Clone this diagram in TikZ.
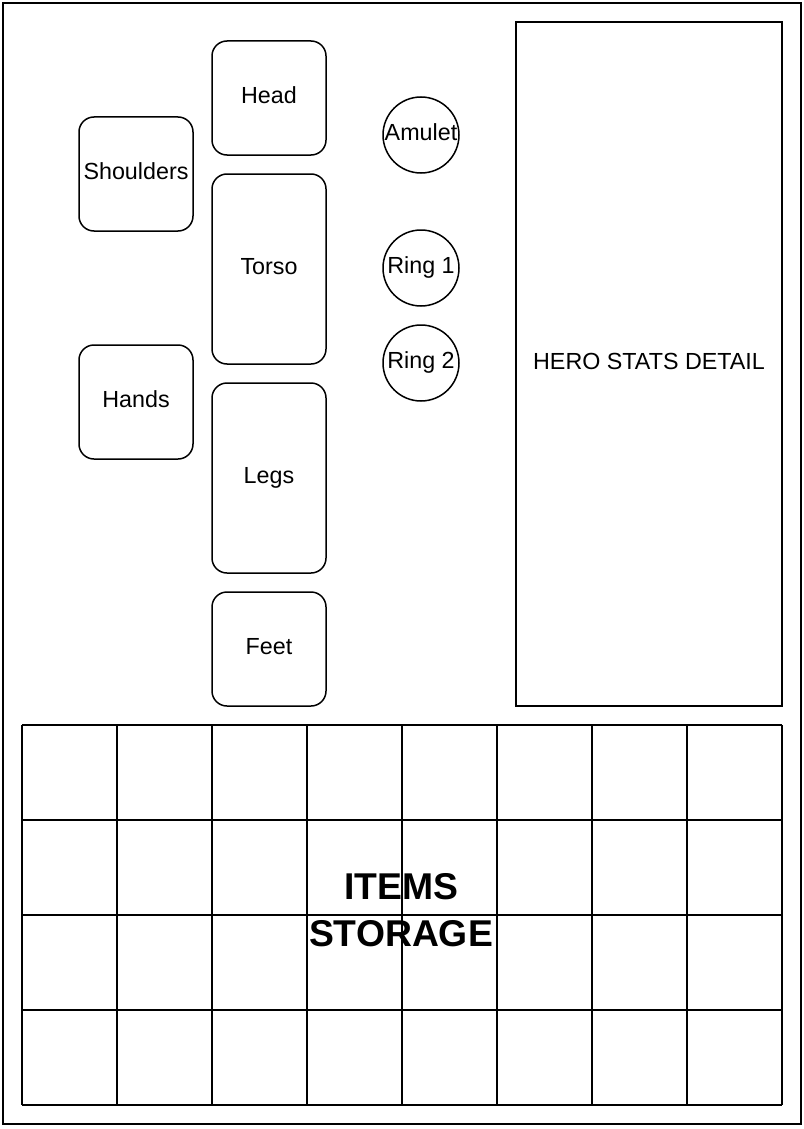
\documentclass[tikz,border=0pt]{standalone}
\usepackage{fontspec}
\setmainfont{Liberation Sans}
\begin{document}
\begin{tikzpicture}[x=1pt,y=-1pt,
  lbl/.style={font=\fontsize{23.3}{28}\selectfont, text height=16pt, text depth=4.2pt},
  slot/.style={draw, line width=1.5pt, rounded corners=15pt, minimum width=114pt, inner sep=0pt, lbl},
  gem/.style={draw, circle, line width=1.5pt, minimum size=76pt, inner sep=0pt, lbl},
  frame/.style={draw, line width=2pt, inner sep=0pt}]
\useasboundingbox (0,0) rectangle (803,1129);
\node[frame, minimum width=798pt, minimum height=1121pt] (outer) at (402,563.5) {};
\node[slot, minimum height=114pt] (head) at (269,98) {Head};
\node[slot, minimum height=114pt] (shoulders) at (136,174) {Shoulders};
\node[slot, minimum height=190pt] (torso) at (269,269) {Torso};
\node[slot, minimum height=114pt] (hands) at (136,402) {Hands};
\node[slot, minimum height=190pt] (legs) at (269,478) {Legs};
\node[slot, minimum height=114pt] (feet) at (269,649) {Feet};
\node[gem] (amulet) at (421,135) {Amulet};
\node[gem] (ring1) at (421,268) {Ring 1};
\node[gem] (ring2) at (421,363) {Ring 2};
\node[frame, minimum width=266pt, minimum height=684pt, lbl] (stats) at (649,364) {HERO STATS DETAIL};
\foreach \i in {0,...,8} {\draw[line width=1.5pt] (22+95*\i,725) -- (22+95*\i,1105);}
\foreach \j in {0,...,4} {\draw[line width=1.5pt] (22,725+95*\j) -- (782,725+95*\j);}
\node[font=\fontsize{37.3}{47}\selectfont\bfseries, align=center, inner sep=0pt] (storage) at (401,910) {ITEMS\\STORAGE};
\end{tikzpicture}
\end{document}
